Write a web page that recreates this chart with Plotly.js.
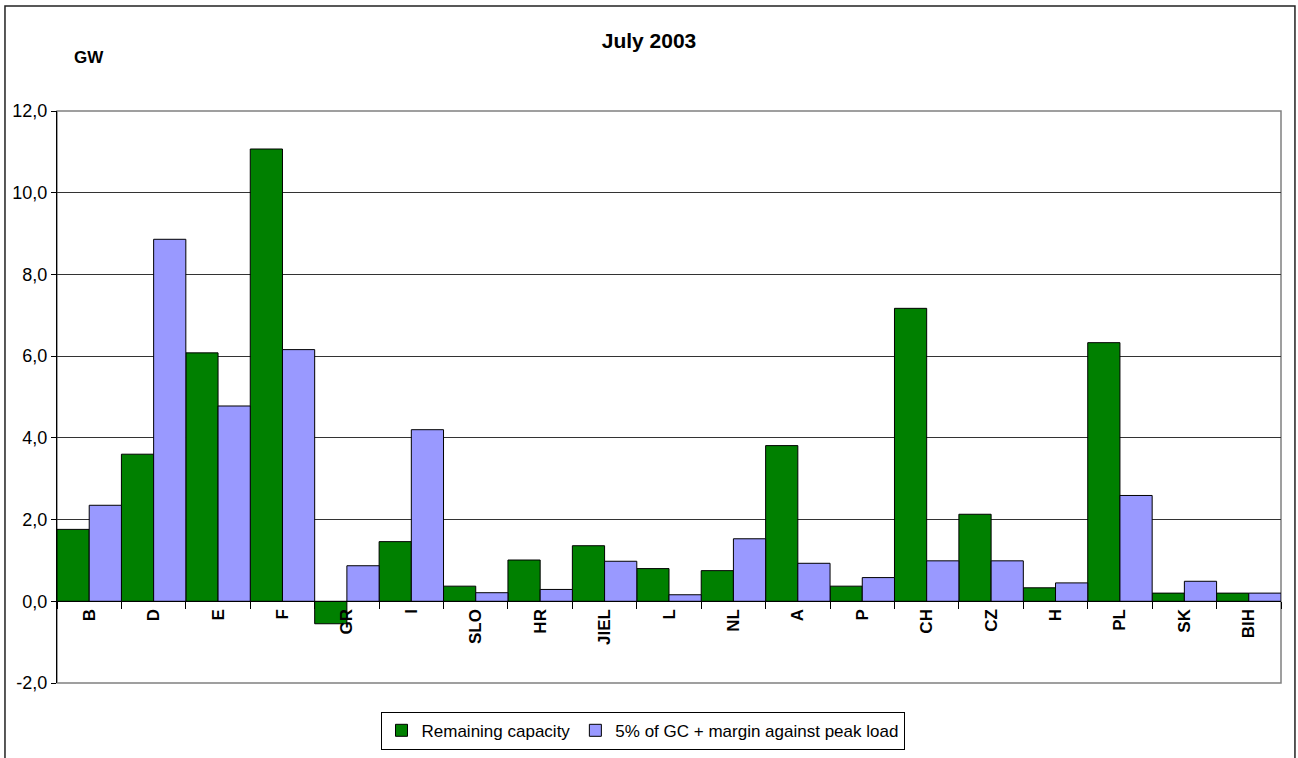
<!DOCTYPE html>
<html>
<head>
<meta charset="utf-8">
<script src="https://cdn.plot.ly/plotly-3.0.1.min.js"></script>
<style>
  html, body { margin: 0; padding: 0; background: #fff; }
  #chart { width: 1298px; height: 758px; }
</style>
</head>
<body>
<div id="chart"></div>
<script>
// Countries in display order
const countries = ['B', 'D', 'E', 'F', 'GR', 'I', 'SLO', 'HR', 'JIEL', 'L', 'NL', 'A', 'P', 'CH', 'CZ', 'H', 'PL', 'SK', 'BIH'];

// Remaining capacity, GW
const remainingCapacity = [1.76, 3.60, 6.08, 11.07, -0.55, 1.46, 0.37, 1.01, 1.36, 0.80, 0.75, 3.81, 0.37, 7.17, 2.13, 0.33, 6.33, 0.20, 0.20];

// 5% of generating capacity + margin against peak load, GW
const marginPeakLoad = [2.35, 8.86, 4.78, 6.16, 0.87, 4.20, 0.21, 0.29, 0.98, 0.16, 1.53, 0.93, 0.58, 0.99, 0.99, 0.45, 2.59, 0.49, 0.20];

const seriesNames = ['Remaining capacity', '5% of GC + margin against peak load'];
const yTicks = [-2, 0, 2, 4, 6, 8, 10, 12];
// decimal comma, plain hyphen for negatives
const yTickText = yTicks.map(v => v.toFixed(1).replace('.', ','));

const FONT = 'Arial, "Liberation Sans", sans-serif';
const yMin = -2, yMax = 12;

const traces = [
  {
    type: 'bar', name: seriesNames[0], x: countries, y: remainingCapacity,
    marker: { color: '#008000', line: { color: '#000000', width: 1 } },
    hoverinfo: 'x+y'
  },
  {
    type: 'bar', name: seriesNames[1], x: countries, y: marginPeakLoad,
    marker: { color: '#9999FF', line: { color: '#000000', width: 1 } },
    hoverinfo: 'x+y'
  }
];

const layout = {
  width: 1298, height: 758,
  margin: { l: 57, r: 17, t: 111, b: 75 },
  paper_bgcolor: '#ffffff', plot_bgcolor: '#ffffff',
  font: { family: FONT, color: '#000000', size: 17 },
  barmode: 'group', bargap: 0, bargroupgap: 0,
  showlegend: true,
  title: {
    text: '<b>July 2003</b>',
    font: { family: FONT, size: 21, color: '#000' },
    x: 0.5, xref: 'container', xanchor: 'center',
    y: 0.946, yref: 'container', yanchor: 'middle'
  },
  xaxis: {
    type: 'category',
    anchor: 'free',
    position: (0 - yMin) / (yMax - yMin),
    showline: true, linecolor: '#000', linewidth: 1,
    ticks: 'outside', ticklen: 7, tickcolor: '#000', tickwidth: 1,
    tickson: 'boundaries',
    tickangle: -90,
    tickfont: { family: FONT, size: 17, color: '#000', weight: 'bold' },
    showgrid: false, zeroline: false,
    automargin: false,
    fixedrange: true
  },
  yaxis: {
    range: [yMin, yMax],
    tickmode: 'array',
    tickvals: yTicks,
    ticktext: yTickText,
    showline: true, linecolor: '#000', linewidth: 1,
    ticks: 'outside', ticklen: 5, tickcolor: '#000',
    tickfont: { family: FONT, size: 18, color: '#000' },
    showgrid: true, gridcolor: '#333', gridwidth: 1,
    zeroline: false,
    automargin: false,
    fixedrange: true
  },
  legend: {
    orientation: 'h',
    x: 0.495, xanchor: 'center', xref: 'container',
    y: 0.061, yanchor: 'top', yref: 'container',
    bordercolor: '#000', borderwidth: 1,
    bgcolor: '#fff',
    font: { family: FONT, size: 17, color: '#000' },
    itemwidth: 30,
    tracegroupgap: 0
  },
  annotations: [
    {
      text: '<b>GW</b>', xref: 'paper', yref: 'paper',
      x: (72 - 57) / 1224, y: (683 - 58) / 572, xanchor: 'left', yanchor: 'middle',
      showarrow: false, font: { family: FONT, size: 17, color: '#000' }
    }
  ],
  shapes: [
    // grey plot-area border
    {
      type: 'rect', xref: 'paper', yref: 'paper', x0: 0, x1: 1, y0: 0, y1: 1,
      line: { color: '#808080', width: 1.5 }, layer: 'between'
    },
    // outer chart frame
    {
      type: 'rect', xref: 'paper', yref: 'paper',
      x0: -0.0425, x1: 1.0114, y0: -0.2, y1: 1.1836,
      line: { color: '#222', width: 1.5 }, layer: 'below'
    }
  ]
};

Plotly.newPlot('chart', traces, layout, { displayModeBar: false, staticPlot: true });
</script>
</body>
</html>
